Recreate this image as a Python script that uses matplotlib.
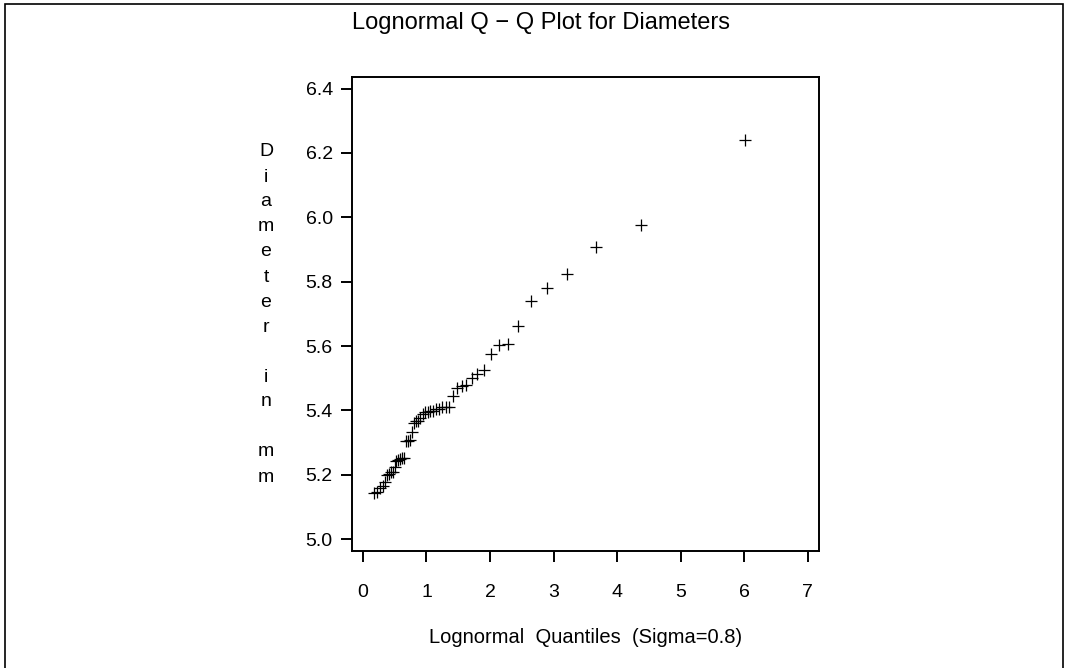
import matplotlib.pyplot as plt
from matplotlib.patches import Rectangle

plt.rcParams['font.family'] = ['Liberation Sans', 'DejaVu Sans']

# lognormal quantiles (sigma = 0.8)
quantiles = [0.166, 0.228, 0.273, 0.311, 0.346, 0.378, 0.409, 0.439, 0.469, 0.498,
             0.527, 0.556, 0.585, 0.614, 0.644, 0.674, 0.705, 0.736, 0.768, 0.801,
             0.834, 0.869, 0.905, 0.942, 0.980, 1.020, 1.062, 1.105, 1.151, 1.199,
             1.249, 1.302, 1.359, 1.419, 1.484, 1.553, 1.628, 1.710, 1.800, 1.899,
             2.009, 2.135, 2.278, 2.446, 2.646, 2.894, 3.215, 3.664, 4.384, 6.017]

# sorted diameters in mm
diameters = [5.143, 5.146, 5.160, 5.164, 5.177, 5.200, 5.202, 5.208, 5.209, 5.223,
             5.244, 5.247, 5.248, 5.251, 5.252, 5.304, 5.304, 5.309, 5.332, 5.360,
             5.366, 5.368, 5.376, 5.388, 5.394, 5.394, 5.399, 5.399, 5.404, 5.404,
             5.409, 5.410, 5.410, 5.445, 5.470, 5.475, 5.480, 5.501, 5.512, 5.525,
             5.576, 5.603, 5.607, 5.661, 5.739, 5.781, 5.823, 5.907, 5.977, 6.239]

xticks = [0, 1, 2, 3, 4, 5, 6, 7]
yticks = [5.0, 5.2, 5.4, 5.6, 5.8, 6.0, 6.2, 6.4]

W, H = 1068, 668
fig = plt.figure(figsize=(W / 100, H / 100), dpi=100)
ax = fig.add_axes([352 / W, 1 - 551 / H, (819 - 352) / W, (551 - 77) / H])

ax.plot(quantiles, diameters, linestyle='none', marker='+', markersize=9,
        markeredgewidth=0.9, color='black')

ax.set_xlim(-0.173, 7.18)
ax.set_ylim(4.963, 6.436)
ax.set_xticks(xticks)
ax.set_xticklabels([str(t) for t in xticks])
ax.set_yticks(yticks)
ax.set_yticklabels([f"{t:.1f}" for t in yticks])

for s in ax.spines.values():
    s.set_linewidth(1.4)
ax.tick_params(axis='both', direction='out', length=8, width=1.4, labelsize=14)
ax.tick_params(axis='x', pad=15.5)
ax.tick_params(axis='y', pad=5.8)

ax.set_xlabel('Lognormal  Quantiles  (Sigma=0.8)', fontsize=14.5)
ax.xaxis.set_label_coords(0.5, -0.163)

fig.text(541 / W, 1 - 23 / H, 'Lognormal Q \u2212 Q Plot for Diameters',
         fontsize=17, ha='center', va='center')

# vertical stacked y label
ylab = 'Diameter in mm'
for k, ch in enumerate(ylab):
    if ch != ' ':
        fig.text(266 / W, 1 - (152 + 25 * k) / H, ch, fontsize=14,
                 ha='center', va='center')

# outer frame
fig.patches.append(Rectangle((5 / W, -0.1), (1063 - 5) / W, 1.1 - 4 / H,
                             transform=fig.transFigure, fill=False,
                             edgecolor='black', linewidth=1.2))

fig.savefig('out.png', dpi=100)
